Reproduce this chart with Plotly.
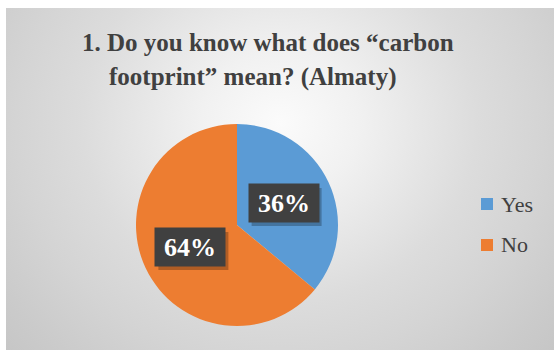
import math
import plotly.graph_objects as go

# Survey answers
categories = ["Yes", "No"]
shares = [36, 64]
colors = ["#5B9BD5", "#ED7D31"]

title_lines = ["1. Do you know what does \u201ccarbon", "footprint\u201d mean? (Almaty)"]

W, H = 554, 350
SERIF = "Liberation Serif, DejaVu Serif, serif"
TEXT_DARK = "#404040"

# Pie geometry in pixels (from top-left corner of the page)
CX, CY, R = 237, 225, 101

fig = go.Figure()

# Chart-area background: radial grey gradient, clipped to the chart box
bg_cx, bg_cy = 280, 342 - 115
bg_hw, bg_hh = 440, 400
fig.add_trace(go.Scatter(
    x=[bg_cx - bg_hw, bg_cx + bg_hw, bg_cx + bg_hw, bg_cx - bg_hw, bg_cx - bg_hw],
    y=[bg_cy - bg_hh, bg_cy - bg_hh, bg_cy + bg_hh, bg_cy + bg_hh, bg_cy - bg_hh],
    mode="lines", line=dict(width=0), fill="toself",
    fillgradient=dict(type="radial", colorscale=[
        [0.0, "#fbfbfb"], [0.18, "#f1f1f1"], [0.45, "#dcdcdc"],
        [0.6, "#d4d4d4"], [0.75, "#cbcbcb"], [0.9, "#c3c3c3"], [1.0, "#bfbfbf"]]),
    hoverinfo="skip", showlegend=False, xaxis="x2", yaxis="y2",
))

# Soft shadow around the pie
sh_r = R + 16
sh_cy = H - CY - 3
angles = [2 * math.pi * i / 120 for i in range(121)]
fig.add_trace(go.Scatter(
    x=[CX + sh_r * math.cos(a) for a in angles],
    y=[sh_cy + sh_r * math.sin(a) for a in angles],
    mode="lines", line=dict(width=0), fill="toself",
    fillgradient=dict(type="radial", colorscale=[
        [0.0, "rgba(0,0,0,0.25)"], [0.84, "rgba(0,0,0,0.18)"],
        [0.92, "rgba(0,0,0,0.07)"], [1.0, "rgba(0,0,0,0)"]]),
    hoverinfo="skip", showlegend=False, xaxis="x", yaxis="y",
))

fig.add_trace(go.Pie(
    labels=categories, values=shares,
    marker=dict(colors=colors, line=dict(width=0)),
    sort=False, direction="clockwise", rotation=0,
    textinfo="none", hoverinfo="label+percent", showlegend=False,
    domain=dict(x=[(CX - R) / W, (CX + R) / W],
                y=[(H - CY - R) / H, (H - CY + R) / H]),
))

annotations = []
shapes = []

# Percentage labels in dark boxes at the middle of each slice
BOX_W, BOX_H = 70, 38
total = sum(shares)
cum = 0
for name, val in zip(categories, shares):
    mid = (cum + val / 2) / total * 2 * math.pi
    cum += val
    px = CX + 0.51 * R * math.sin(mid)
    py = (H - CY) + 0.51 * R * math.cos(mid)
    label = f"{round(val / total * 100)}%"
    # drop shadow behind the label box
    shapes.append(dict(type="rect", xref="paper", yref="paper", layer="above",
                       x0=(px - BOX_W / 2 + 3) / W, x1=(px + BOX_W / 2 + 3) / W,
                       y0=(py - BOX_H / 2 - 4) / H, y1=(py + BOX_H / 2 - 4) / H,
                       fillcolor="rgba(0,0,0,0.25)", line=dict(width=0)))
    annotations.append(dict(x=px / W, y=py / H, xref="paper", yref="paper",
                            xanchor="center", yanchor="middle",
                            showarrow=False, text=f"<b>{label}</b>",
                            width=BOX_W - 8, height=BOX_H - 8, borderpad=4,
                            bgcolor="#404040",
                            font=dict(family=SERIF, size=26, color="white")))

# Legend: faint backdrop, colour keys and names
shapes.append(dict(type="rect", xref="paper", yref="paper", layer="below",
                   x0=469 / W, x1=545 / W, y0=(H - 260) / H, y1=(H - 183) / H,
                   fillcolor="rgba(255,255,255,0.12)", line=dict(width=0)))
leg_x, leg_y0, leg_step = 481, 204, 41
for i, (name, col) in enumerate(zip(categories, colors)):
    yc = leg_y0 + i * leg_step
    shapes.append(dict(type="rect", xref="paper", yref="paper",
                       x0=leg_x / W, x1=(leg_x + 12) / W,
                       y0=(H - yc - 6) / H, y1=(H - yc + 6) / H,
                       fillcolor=col, line=dict(width=0)))
    annotations.append(dict(x=(leg_x + 18) / W, y=(H - yc) / H,
                            xref="paper", yref="paper", xanchor="left",
                            yanchor="middle", showarrow=False, text=name,
                            font=dict(family=SERIF, size=22, color=TEXT_DARK)))

# Title, one line each
title_centers = [(268, 42), (252, 77)]
for line, (tx, ty) in zip(title_lines, title_centers):
    annotations.append(dict(x=tx / W, y=(H - ty) / H, xref="paper", yref="paper",
                            xanchor="center", yanchor="middle", showarrow=False,
                            text=f"<b>{line}</b>",
                            font=dict(family=SERIF, size=25, color=TEXT_DARK)))

axis_off = dict(visible=False, showgrid=False, zeroline=False, fixedrange=True)
fig.update_layout(
    width=W, height=H,
    margin=dict(l=0, r=0, t=0, b=0),
    paper_bgcolor="white", plot_bgcolor="rgba(0,0,0,0)",
    xaxis=dict(axis_off, range=[0, W], domain=[0, 1]),
    yaxis=dict(axis_off, range=[0, H], domain=[0, 1]),
    xaxis2=dict(axis_off, range=[6, W], domain=[6 / W, 1], anchor="y2"),
    yaxis2=dict(axis_off, range=[0, H - 8], domain=[0, (H - 8) / H], anchor="x2"),
    annotations=annotations, shapes=shapes,
    showlegend=False,
)

fig.write_html("out.html")
